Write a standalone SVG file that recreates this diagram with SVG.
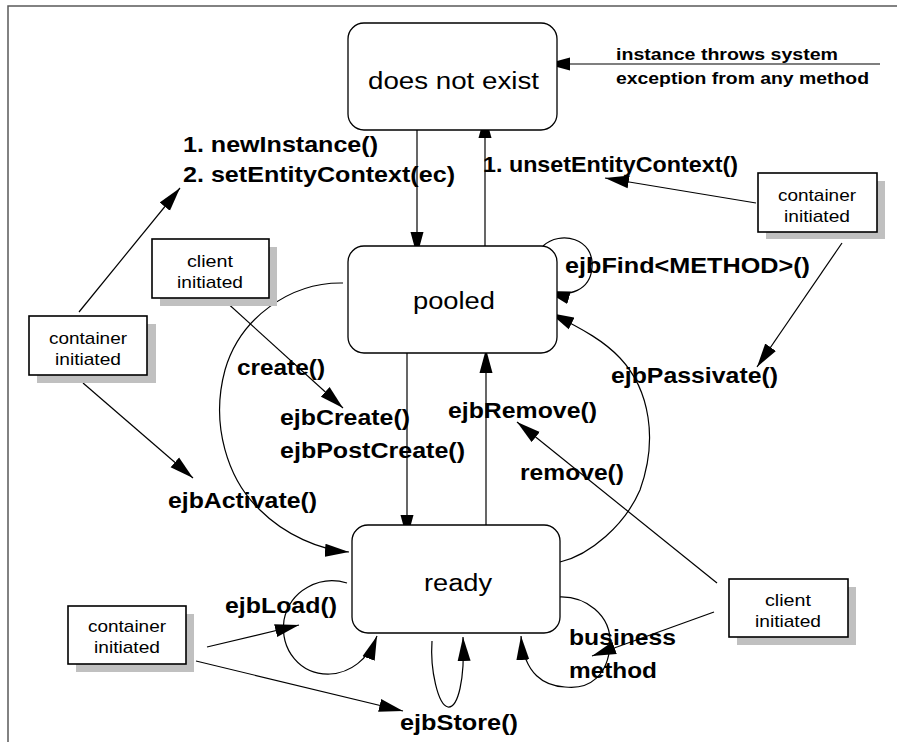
<svg xmlns="http://www.w3.org/2000/svg" width="897" height="742" viewBox="0 0 897 742">
<defs>
<style>
.frame{fill:none;stroke:#5a5a5a;stroke-width:1.5}
.state{fill:#fff;stroke:#000;stroke-width:1.3}
.note{fill:#fff;stroke:#000;stroke-width:1.6}
.shadow{fill:#c0c0c0;stroke:none}
.st{font-family:"Liberation Sans",Arial,sans-serif;font-size:23px;fill:#000}
.lb{font-family:"Liberation Sans",Arial,sans-serif;font-size:22px;font-weight:bold;fill:#000}
.lbs{font-family:"Liberation Sans",Arial,sans-serif;font-size:17px;font-weight:bold;fill:#000}
.nt{font-family:"Liberation Sans",Arial,sans-serif;font-size:17px;fill:#000;text-anchor:middle}
.c{fill:none;stroke:#000;stroke-width:1.2;marker-end:url(#ah)}
</style>
<marker id="ah" markerUnits="userSpaceOnUse" markerWidth="24" markerHeight="14" refX="24" refY="6.5" orient="auto" viewBox="0 0 24 13">
<path d="M0,0 L24,6.5 L0,13 Z" fill="#000"/>
</marker>
</defs>
<path class="frame" d="M8,742 V6 H897"/>
<g id="connectors">
<path class="c" d="M417,114 L417,256"/>
<path class="c" d="M485,253 L485,114"/>
<path class="c" d="M407,349 L407,539"/>
<path class="c" d="M486,525 L486,349"/>
<path class="c" d="M880,64 L546,64"/>
<path class="c" d="M756,203 L605,178"/>
<path class="c" d="M842,243 L757,367"/>
<path class="c" d="M79,312 L180,188"/>
<path class="c" d="M83,383 L193,478"/>
<path class="c" d="M213,290 L343,408"/>
<path class="c" d="M717,583 L517,422"/>
<path class="c" d="M714,612 L592,656"/>
<path class="c" d="M207,647 L299,625"/>
<path class="c" d="M196,661 L403,711"/>
<path class="c" d="M543,246 C560,230 595,238 592,268 C590,290 570,298 546,291"/>
<path class="c" d="M343,283 C290,282 240,318 225,370 C210,425 228,480 260,510 C285,535 320,550 349,552"/>
<path class="c" d="M560,562 C590,555 625,525 640,490 C658,440 650,390 620,358 C605,342 585,330 550,313"/>
<path class="c" d="M557,597 C585,595 612,615 610,645 C608,675 590,690 565,687 C545,686 524,675 521,636"/>
<path class="c" d="M432,641 C430,670 438,705 448,707 C458,708 465,680 463,637"/>
<path class="c" d="M347,583 C320,575 290,590 284,620 C280,650 300,675 330,674 C350,673 368,660 377,636"/>
</g>
<g id="doesnotexist">
<rect class="state" x="348" y="23" width="209" height="107" rx="16"/>
<text class="st" x="368" y="89" textLength="171" lengthAdjust="spacingAndGlyphs">does not exist</text>
</g>
<g id="pooled">
<rect class="state" x="348" y="246" width="209" height="107" rx="16"/>
<text class="st" x="413" y="309" textLength="82" lengthAdjust="spacingAndGlyphs">pooled</text>
</g>
<g id="ready">
<rect class="state" x="352" y="525" width="208" height="108" rx="16"/>
<text class="st" x="424" y="591" textLength="68" lengthAdjust="spacingAndGlyphs">ready</text>
</g>
<g id="container-top-right">
<rect class="shadow" x="766" y="181" width="119" height="58"/>
<rect class="note" x="758" y="173" width="119" height="59"/>
<text class="nt" x="817" y="201" textLength="78" lengthAdjust="spacingAndGlyphs">container</text>
<text class="nt" x="817" y="222" textLength="66" lengthAdjust="spacingAndGlyphs">initiated</text>
</g>
<g id="container-left">
<rect class="shadow" x="37" y="324" width="119" height="59"/>
<rect class="note" x="29" y="316" width="118" height="59"/>
<text class="nt" x="88" y="344" textLength="78" lengthAdjust="spacingAndGlyphs">container</text>
<text class="nt" x="88" y="365" textLength="66" lengthAdjust="spacingAndGlyphs">initiated</text>
</g>
<g id="client-top-left">
<rect class="shadow" x="160" y="247" width="117" height="59"/>
<rect class="note" x="152" y="239" width="117" height="59"/>
<text class="nt" x="210" y="267" textLength="46" lengthAdjust="spacingAndGlyphs">client</text>
<text class="nt" x="210" y="288" textLength="66" lengthAdjust="spacingAndGlyphs">initiated</text>
</g>
<g id="client-bottom-right">
<rect class="shadow" x="737" y="587" width="119" height="58"/>
<rect class="note" x="729" y="579" width="119" height="58"/>
<text class="nt" x="788" y="606" textLength="46" lengthAdjust="spacingAndGlyphs">client</text>
<text class="nt" x="788" y="627" textLength="66" lengthAdjust="spacingAndGlyphs">initiated</text>
</g>
<g id="container-bottom-left">
<rect class="shadow" x="76" y="614" width="118" height="58"/>
<rect class="note" x="68" y="606" width="118" height="58"/>
<text class="nt" x="127" y="632" textLength="78" lengthAdjust="spacingAndGlyphs">container</text>
<text class="nt" x="127" y="653" textLength="66" lengthAdjust="spacingAndGlyphs">initiated</text>
</g>
<g id="labels">
<text class="lbs" x="616" y="60" textLength="222" lengthAdjust="spacingAndGlyphs">instance throws system</text>
<text class="lbs" x="616" y="84" textLength="253" lengthAdjust="spacingAndGlyphs">exception from any method</text>
<text class="lb" x="183" y="152" textLength="195" lengthAdjust="spacingAndGlyphs">1. newInstance()</text>
<text class="lb" x="183" y="182" textLength="272" lengthAdjust="spacingAndGlyphs">2. setEntityContext(ec)</text>
<text class="lb" x="483" y="172" textLength="255" lengthAdjust="spacingAndGlyphs">1. unsetEntityContext()</text>
<text class="lb" x="565" y="273" textLength="245" lengthAdjust="spacingAndGlyphs">ejbFind&lt;METHOD&gt;()</text>
<text class="lb" x="611" y="383" textLength="167" lengthAdjust="spacingAndGlyphs">ejbPassivate()</text>
<text class="lb" x="237" y="375" textLength="88" lengthAdjust="spacingAndGlyphs">create()</text>
<text class="lb" x="280" y="425" textLength="130" lengthAdjust="spacingAndGlyphs">ejbCreate()</text>
<text class="lb" x="280" y="458" textLength="185" lengthAdjust="spacingAndGlyphs">ejbPostCreate()</text>
<text class="lb" x="448" y="418" textLength="149" lengthAdjust="spacingAndGlyphs">ejbRemove()</text>
<text class="lb" x="520" y="480" textLength="104" lengthAdjust="spacingAndGlyphs">remove()</text>
<text class="lb" x="168" y="508" textLength="149" lengthAdjust="spacingAndGlyphs">ejbActivate()</text>
<text class="lb" x="225" y="613" textLength="112" lengthAdjust="spacingAndGlyphs">ejbLoad()</text>
<text class="lb" x="569" y="645" textLength="107" lengthAdjust="spacingAndGlyphs">business</text>
<text class="lb" x="569" y="678" textLength="88" lengthAdjust="spacingAndGlyphs">method</text>
<text class="lb" x="400" y="730" textLength="118" lengthAdjust="spacingAndGlyphs">ejbStore()</text>
</g>
</svg>
